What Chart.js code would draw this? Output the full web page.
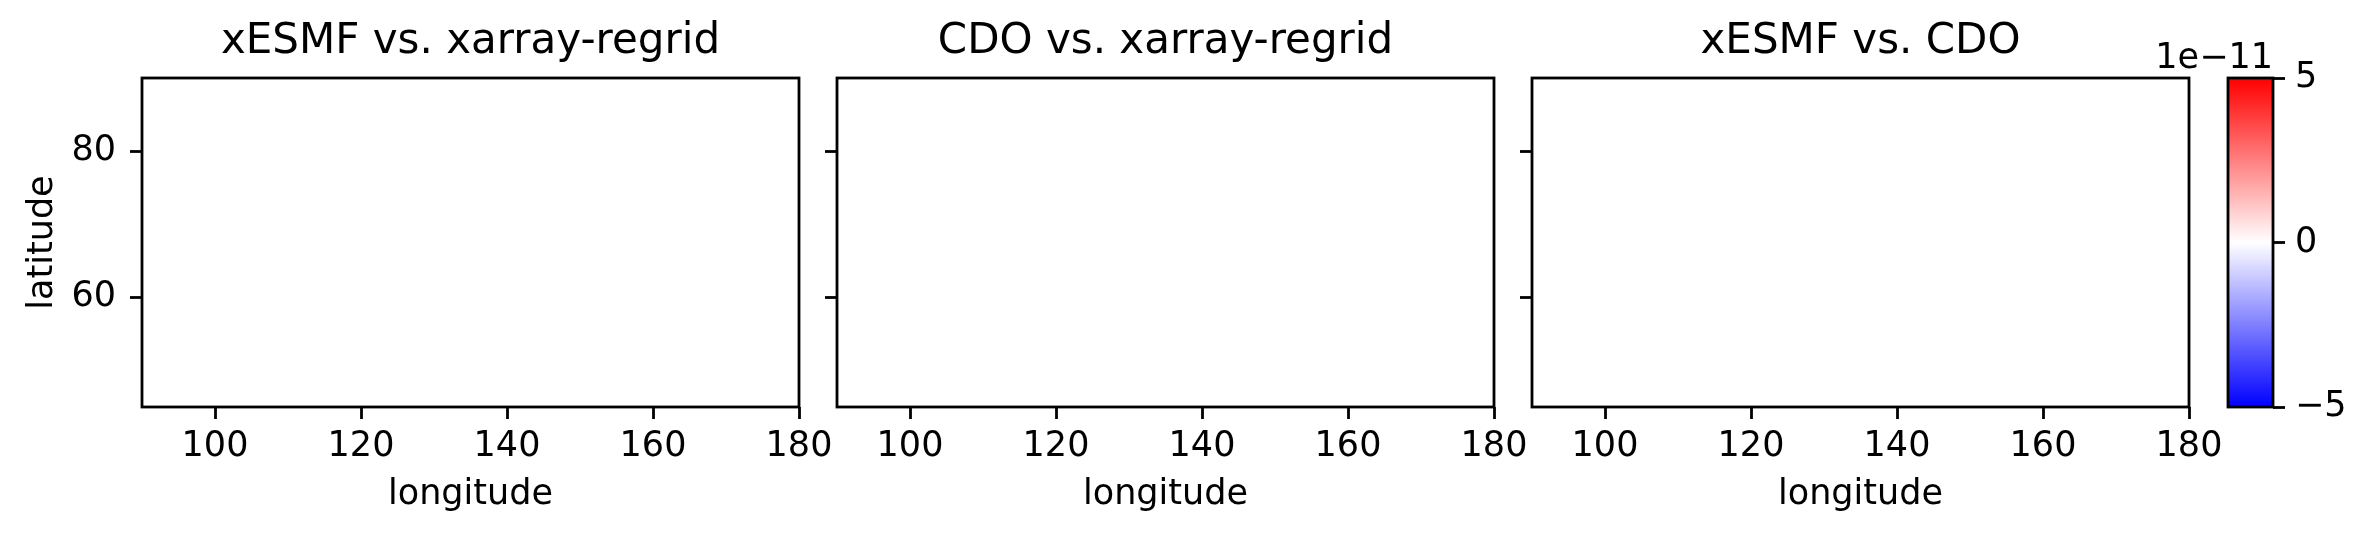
<!DOCTYPE html>
<html>
<head>
<meta charset="utf-8">
<script src="https://cdn.jsdelivr.net/npm/chart.js@4"></script>
<style>
  html, body { margin: 0; padding: 0; background: #fff; }
  #fig { position: relative; width: 2373px; height: 538px; overflow: hidden; }
  .cell { position: absolute; left: 0; top: 0; width: 2373px; height: 538px; }
</style>
</head>
<body>
<div id="fig">
  <div class="cell"><canvas id="p0"></canvas></div>
  <div class="cell"><canvas id="p1"></canvas></div>
  <div class="cell"><canvas id="p2"></canvas></div>
  <div class="cell"><canvas id="cb"></canvas></div>
</div>
<script>
// data
const panelTitles = ["xESMF vs. xarray-regrid", "CDO vs. xarray-regrid", "xESMF vs. CDO"];
const lonRange = [90, 180];
const latRange = [45, 90];
const lonTicks = [100, 120, 140, 160, 180];
const latTicks = [60, 80];
const cbarRange = [-5, 5];
const cbarTicks = [-5, 0, 5];
const cbarExponent = -11;
const cmapColors = ["#0000ff", "#ffffff", "#ff0000"];   // bwr

// layout (pixels)
const W = 2373, H = 538;
const PLOT_TOP = 78, PLOT_BOTTOM = 407;
const PANEL_LEFT = [142, 837, 1532];
const PANEL_W = 657;
const CB_LEFT = 2228, CB_W = 45;

Chart.defaults.font.family = "'DejaVu Sans', sans-serif";
Chart.defaults.color = "#000";

const minus = "\u2212";
const fmt = v => (v < 0 ? minus + Math.abs(v) : String(v));

const gridOpts = {
  display: true,
  drawOnChartArea: false,
  drawTicks: true,
  tickLength: 12,
  tickWidth: 2.8,
  tickColor: "#000"
};

// black box round the plot area
const framePlugin = {
  id: "frame",
  afterDraw(chart) {
    const { ctx, chartArea: a } = chart;
    ctx.save();
    ctx.strokeStyle = "#000";
    ctx.lineWidth = 2.8;
    ctx.strokeRect(a.left, a.top, a.right - a.left, a.bottom - a.top);
    ctx.restore();
  }
};

// "1e-11" above the colour bar, like matplotlib's offset text
const offsetTextPlugin = {
  id: "offsetText",
  afterDraw(chart) {
    const { ctx, chartArea: a } = chart;
    ctx.save();
    ctx.font = "35px 'DejaVu Sans', sans-serif";
    ctx.fillStyle = "#000";
    ctx.textAlign = "right";
    ctx.textBaseline = "alphabetic";
    ctx.fillText("1e" + fmt(cbarExponent), a.right, a.top - 10);
    ctx.restore();
  }
};

function fixTicks(values) {
  return scale => { scale.ticks = values.map(v => ({ value: v })); };
}

function panelChart(i) {
  const first = i === 0;
  const left = PANEL_LEFT[i];
  const yw = first ? left : 20;

  return new Chart(document.getElementById("p" + i), {
    type: "scatter",
    data: { datasets: [{ data: [] }] },
    options: {
      responsive: true,
      maintainAspectRatio: false,
      animation: false,
      events: [],
      layout: { padding: { left: left - yw, right: W - left - PANEL_W, top: 0, bottom: 0 } },
      plugins: {
        legend: { display: false },
        tooltip: { enabled: false },
        title: {
          display: true,
          text: panelTitles[i],
          fullSize: false,
          font: { size: 42, weight: "normal" },
          padding: { top: 17, bottom: PLOT_TOP - 17 - 42 * 1.2 }
        }
      },
      scales: {
        x: {
          type: "linear",
          min: lonRange[0],
          max: lonRange[1],
          afterBuildTicks: fixTicks(lonTicks),
          afterFit: s => { s.height = H - PLOT_BOTTOM; },
          ticks: { font: { size: 35 }, padding: 7, maxRotation: 0, autoSkip: false },
          grid: gridOpts,
          border: { display: false },
          title: { display: true, text: "longitude", font: { size: 35 }, padding: { top: 0, bottom: 22 } }
        },
        y: {
          type: "linear",
          min: latRange[0],
          max: latRange[1],
          afterBuildTicks: fixTicks(latTicks),
          afterFit: s => { s.width = yw; },
          ticks: { display: first, font: { size: 35 }, padding: 14, autoSkip: false },
          grid: gridOpts,
          border: { display: false },
          title: { display: first, text: "latitude", font: { size: 35 }, padding: { top: 22, bottom: 0 } }
        }
      }
    },
    plugins: [framePlugin]
  });
}

panelTitles.forEach((t, i) => panelChart(i));

// colour bar
new Chart(document.getElementById("cb"), {
  type: "bar",
  data: {
    labels: [""],
    datasets: [{
      data: [cbarRange],
      borderWidth: 0,
      barPercentage: 1,
      categoryPercentage: 1,
      backgroundColor: c => {
        const a = c.chart.chartArea;
        if (!a) return cmapColors[1];
        const g = c.chart.ctx.createLinearGradient(0, a.bottom, 0, a.top);
        cmapColors.forEach((col, k) => g.addColorStop(k / (cmapColors.length - 1), col));
        return g;
      }
    }]
  },
  options: {
    responsive: true,
    maintainAspectRatio: false,
    animation: false,
    events: [],
    layout: { padding: { left: CB_LEFT, right: W - CB_LEFT - CB_W - 100, top: PLOT_TOP, bottom: H - PLOT_BOTTOM } },
    plugins: {
      legend: { display: false },
      tooltip: { enabled: false },
      title: { display: false }
    },
    scales: {
      x: { display: false },
      y: {
        position: "right",
        min: cbarRange[0],
        max: cbarRange[1],
        afterBuildTicks: fixTicks(cbarTicks),
        afterFit: s => { s.width = 100; },
        ticks: { font: { size: 35 }, padding: 10, autoSkip: false, callback: v => fmt(v) },
        grid: gridOpts,
        border: { display: false }
      }
    }
  },
  plugins: [framePlugin, offsetTextPlugin]
});
</script>
</body>
</html>
